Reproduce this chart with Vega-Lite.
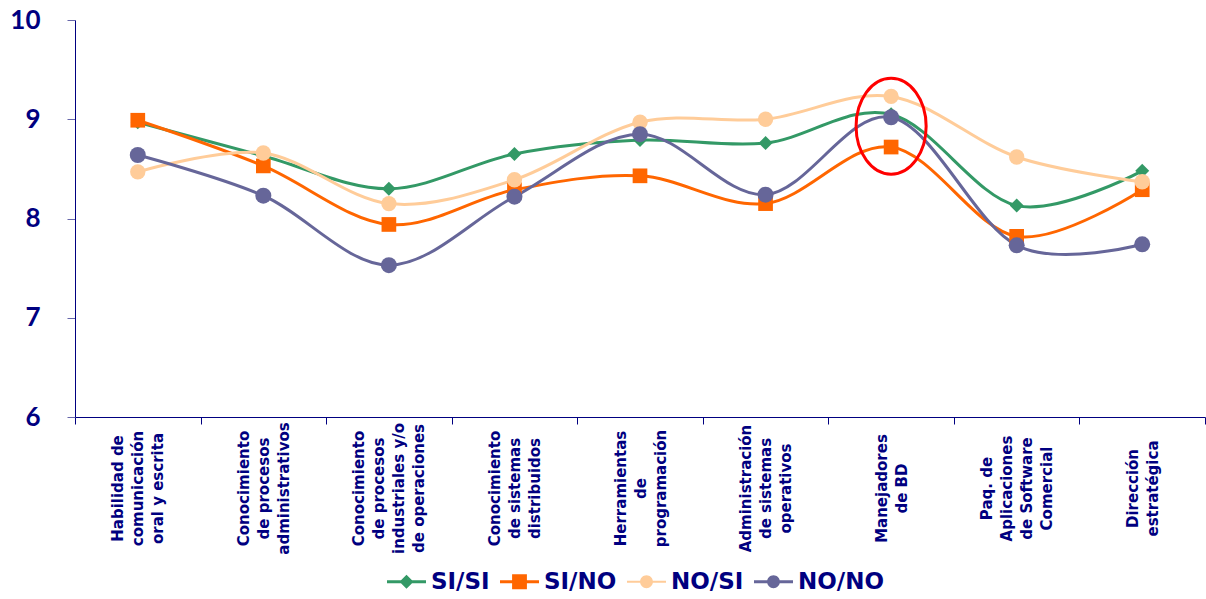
{
  "$schema": "https://vega.github.io/schema/vega-lite/v6.json",
  "autosize": "none",
  "width": 1130,
  "height": 397,
  "padding": {"left": 75, "top": 20, "right": 1, "bottom": 182},
  "background": "white",
  "view": {"stroke": null},
  "config": {"font": "DejaVu Sans"},
  "datasets": {
    "scores": [
      {"habilidad": "Habilidad  de\ncomunicación\noral y escrita", "serie": "SI/SI", "valor": 8.97},
      {"habilidad": "Conocimiento\nde procesos\nadministrativos", "serie": "SI/SI", "valor": 8.63},
      {"habilidad": "Conocimiento\nde procesos\nindustriales y/o\nde operaciones", "serie": "SI/SI", "valor": 8.30},
      {"habilidad": "Conocimiento\nde sistemas\ndistribuidos", "serie": "SI/SI", "valor": 8.65},
      {"habilidad": "Herramientas\nde\nprogramación", "serie": "SI/SI", "valor": 8.79},
      {"habilidad": "Administración\nde sistemas\noperativos", "serie": "SI/SI", "valor": 8.76},
      {"habilidad": "Manejadores\nde BD", "serie": "SI/SI", "valor": 9.05},
      {"habilidad": "Paq. de\nAplicaciones\nde Software\nComercial", "serie": "SI/SI", "valor": 8.13},
      {"habilidad": "Dirección\nestratégica", "serie": "SI/SI", "valor": 8.48},
      {"habilidad": "Habilidad  de\ncomunicación\noral y escrita", "serie": "SI/NO", "valor": 8.99},
      {"habilidad": "Conocimiento\nde procesos\nadministrativos", "serie": "SI/NO", "valor": 8.53},
      {"habilidad": "Conocimiento\nde procesos\nindustriales y/o\nde operaciones", "serie": "SI/NO", "valor": 7.94},
      {"habilidad": "Conocimiento\nde sistemas\ndistribuidos", "serie": "SI/NO", "valor": 8.29},
      {"habilidad": "Herramientas\nde\nprogramación", "serie": "SI/NO", "valor": 8.43},
      {"habilidad": "Administración\nde sistemas\noperativos", "serie": "SI/NO", "valor": 8.15},
      {"habilidad": "Manejadores\nde BD", "serie": "SI/NO", "valor": 8.72},
      {"habilidad": "Paq. de\nAplicaciones\nde Software\nComercial", "serie": "SI/NO", "valor": 7.82},
      {"habilidad": "Dirección\nestratégica", "serie": "SI/NO", "valor": 8.29},
      {"habilidad": "Habilidad  de\ncomunicación\noral y escrita", "serie": "NO/SI", "valor": 8.47},
      {"habilidad": "Conocimiento\nde procesos\nadministrativos", "serie": "NO/SI", "valor": 8.66},
      {"habilidad": "Conocimiento\nde procesos\nindustriales y/o\nde operaciones", "serie": "NO/SI", "valor": 8.15},
      {"habilidad": "Conocimiento\nde sistemas\ndistribuidos", "serie": "NO/SI", "valor": 8.39},
      {"habilidad": "Herramientas\nde\nprogramación", "serie": "NO/SI", "valor": 8.97},
      {"habilidad": "Administración\nde sistemas\noperativos", "serie": "NO/SI", "valor": 9.00},
      {"habilidad": "Manejadores\nde BD", "serie": "NO/SI", "valor": 9.23},
      {"habilidad": "Paq. de\nAplicaciones\nde Software\nComercial", "serie": "NO/SI", "valor": 8.62},
      {"habilidad": "Dirección\nestratégica", "serie": "NO/SI", "valor": 8.37},
      {"habilidad": "Habilidad  de\ncomunicación\noral y escrita", "serie": "NO/NO", "valor": 8.64},
      {"habilidad": "Conocimiento\nde procesos\nadministrativos", "serie": "NO/NO", "valor": 8.23},
      {"habilidad": "Conocimiento\nde procesos\nindustriales y/o\nde operaciones", "serie": "NO/NO", "valor": 7.53},
      {"habilidad": "Conocimiento\nde sistemas\ndistribuidos", "serie": "NO/NO", "valor": 8.22},
      {"habilidad": "Herramientas\nde\nprogramación", "serie": "NO/NO", "valor": 8.85},
      {"habilidad": "Administración\nde sistemas\noperativos", "serie": "NO/NO", "valor": 8.24},
      {"habilidad": "Manejadores\nde BD", "serie": "NO/NO", "valor": 9.02},
      {"habilidad": "Paq. de\nAplicaciones\nde Software\nComercial", "serie": "NO/NO", "valor": 7.73},
      {"habilidad": "Dirección\nestratégica", "serie": "NO/NO", "valor": 7.74}
    ],
    "marca": [
      {"habilidad": "Manejadores\nde BD", "valor": 8.93}
    ]
  },
  "data": {"name": "scores"},
  "encoding": {
    "x": {
      "field": "habilidad",
      "type": "nominal",
      "sort": [
        "Habilidad  de\ncomunicación\noral y escrita",
        "Conocimiento\nde procesos\nadministrativos",
        "Conocimiento\nde procesos\nindustriales y/o\nde operaciones",
        "Conocimiento\nde sistemas\ndistribuidos",
        "Herramientas\nde\nprogramación",
        "Administración\nde sistemas\noperativos",
        "Manejadores\nde BD",
        "Paq. de\nAplicaciones\nde Software\nComercial",
        "Dirección\nestratégica"
      ],
      "scale": {"type": "band", "paddingInner": 0, "paddingOuter": 0},
      "axis": {
        "title": null,
        "tickBand": "extent",
        "domainColor": "#000080",
        "domainWidth": 1,
        "tickColor": "#000080",
        "tickSize": 7,
        "labelAngle": 270,
        "labelAlign": "center",
        "labelBaseline": "middle",
        "labelPadding": 64,
        "labelOffset": {"expr": "isValid(datum.value) ? -(length(split(datum.value, '\\n')) - 1) * 10 : 0"},
        "labelFont": "DejaVu Sans",
        "labelFontSize": 15,
        "labelFontWeight": "bold",
        "labelColor": "#000080",
        "labelLineHeight": 20,
        "labelExpr": "isValid(datum.value) ? split(datum.value, '\\n') : ''",
        "labelOverlap": false,
        "labelLimit": 0,
        "grid": false
      }
    },
    "y": {
      "field": "valor",
      "type": "quantitative",
      "scale": {"domain": [6, 10], "nice": false, "zero": false},
      "axis": {
        "title": null,
        "values": [6, 7, 8, 9, 10],
        "domainColor": "#000080",
        "tickColor": "#6666AA",
        "tickSize": 8,
        "labelFont": "Lato",
        "labelFontSize": 26,
        "labelFontWeight": "bold",
        "labelColor": "#000080",
        "labelPadding": 27,
        "labelFlush": false,
        "labelOverlap": false,
        "grid": false
      }
    }
  },
  "layer": [
    {
      "mark": {"type": "line", "interpolate": "cardinal"},
      "encoding": {
        "color": {"field": "serie", "type": "nominal", "scale": {"domain": ["SI/SI", "SI/NO", "NO/SI", "NO/NO"], "range": ["#339966", "#FF6600", "#FFCC99", "#666699"]}, "legend": null},
        "strokeWidth": {"field": "serie", "type": "nominal", "scale": {"domain": ["SI/SI", "SI/NO", "NO/SI", "NO/NO"], "range": [3, 3, 2, 3]}, "legend": null}
      }
    },
    {
      "mark": {"type": "point", "filled": true, "opacity": 1},
      "encoding": {
        "color": {"field": "serie", "type": "nominal", "scale": {"domain": ["SI/SI", "SI/NO", "NO/SI", "NO/NO"], "range": ["#339966", "#FF6600", "#FFCC99", "#666699"]}, "legend": null},
        "shape": {"field": "serie", "type": "nominal", "scale": {"domain": ["SI/SI", "SI/NO", "NO/SI", "NO/NO"], "range": ["diamond", "square", "circle", "circle"]}, "legend": null},
        "size": {"field": "serie", "type": "nominal", "scale": {"domain": ["SI/SI", "SI/NO", "NO/SI", "NO/NO"], "range": [196, 256, 169, 225]}, "legend": null}
      }
    },
    {
      "transform": [{"filter": "false"}],
      "mark": {"type": "point", "filled": true, "opacity": 1},
      "encoding": {
        "fill": {
          "field": "serie", "type": "nominal",
          "scale": {"domain": ["SI/SI", "SI/NO", "NO/SI", "NO/NO"], "range": ["#339966", "#FF6600", "#FFCC99", "#666699"]},
          "legend": {"orient": "none", "legendX": 312, "legendY": 542, "direction": "horizontal", "title": null, "symbolSize": 1521, "labelFont": "DejaVu Sans", "labelFontSize": 23, "labelFontWeight": "bold", "labelColor": "#000080", "labelOffset": 5, "columnPadding": 10, "symbolStrokeWidth": 0, "symbolOpacity": 1, "padding": 0}
        },
        "shape": {
          "field": "serie", "type": "nominal",
          "scale": {"domain": ["SI/SI", "SI/NO", "NO/SI", "NO/NO"], "range": [
            "M-1,-0.08L1,-0.08L1,0.08L-1,0.08Z M0,-0.36L0.36,0L0,0.36L-0.36,0Z",
            "M-1,-0.08L1,-0.08L1,0.08L-1,0.08Z M-0.38,-0.38L0.38,-0.38L0.38,0.38L-0.38,0.38Z",
            "M-1,-0.05L1,-0.05L1,0.05L-1,0.05Z M0.33,0C0.33,0.182 0.182,0.33 0,0.33C-0.182,0.33 -0.33,0.182 -0.33,0C-0.33,-0.182 -0.182,-0.33 0,-0.33C0.182,-0.33 0.33,-0.182 0.33,0Z",
            "M-1,-0.08L1,-0.08L1,0.08L-1,0.08Z M0.33,0C0.33,0.182 0.182,0.33 0,0.33C-0.182,0.33 -0.33,0.182 -0.33,0C-0.33,-0.182 -0.182,-0.33 0,-0.33C0.182,-0.33 0.33,-0.182 0.33,0Z"
          ]},
          "legend": {"orient": "none", "legendX": 312, "legendY": 542, "direction": "horizontal", "title": null, "symbolSize": 1521, "labelFont": "DejaVu Sans", "labelFontSize": 23, "labelFontWeight": "bold", "labelColor": "#000080", "labelOffset": 5, "columnPadding": 10, "symbolStrokeWidth": 0, "symbolOpacity": 1, "padding": 0}
        }
      }
    },
    {
      "data": {"name": "marca"},
      "mark": {
        "type": "point",
        "shape": "M0.73,0C0.73,0.552 0.403,1 0,1C-0.403,1 -0.73,0.552 -0.73,0C-0.73,-0.552 -0.403,-1 0,-1C0.403,-1 0.73,-0.552 0.73,0Z",
        "size": 9216,
        "filled": false,
        "stroke": "#FF0000",
        "strokeWidth": 3,
        "opacity": 1
      },
      "encoding": {}
    }
  ],
  "resolve": {"scale": {"shape": "independent", "fill": "independent"}}
}
